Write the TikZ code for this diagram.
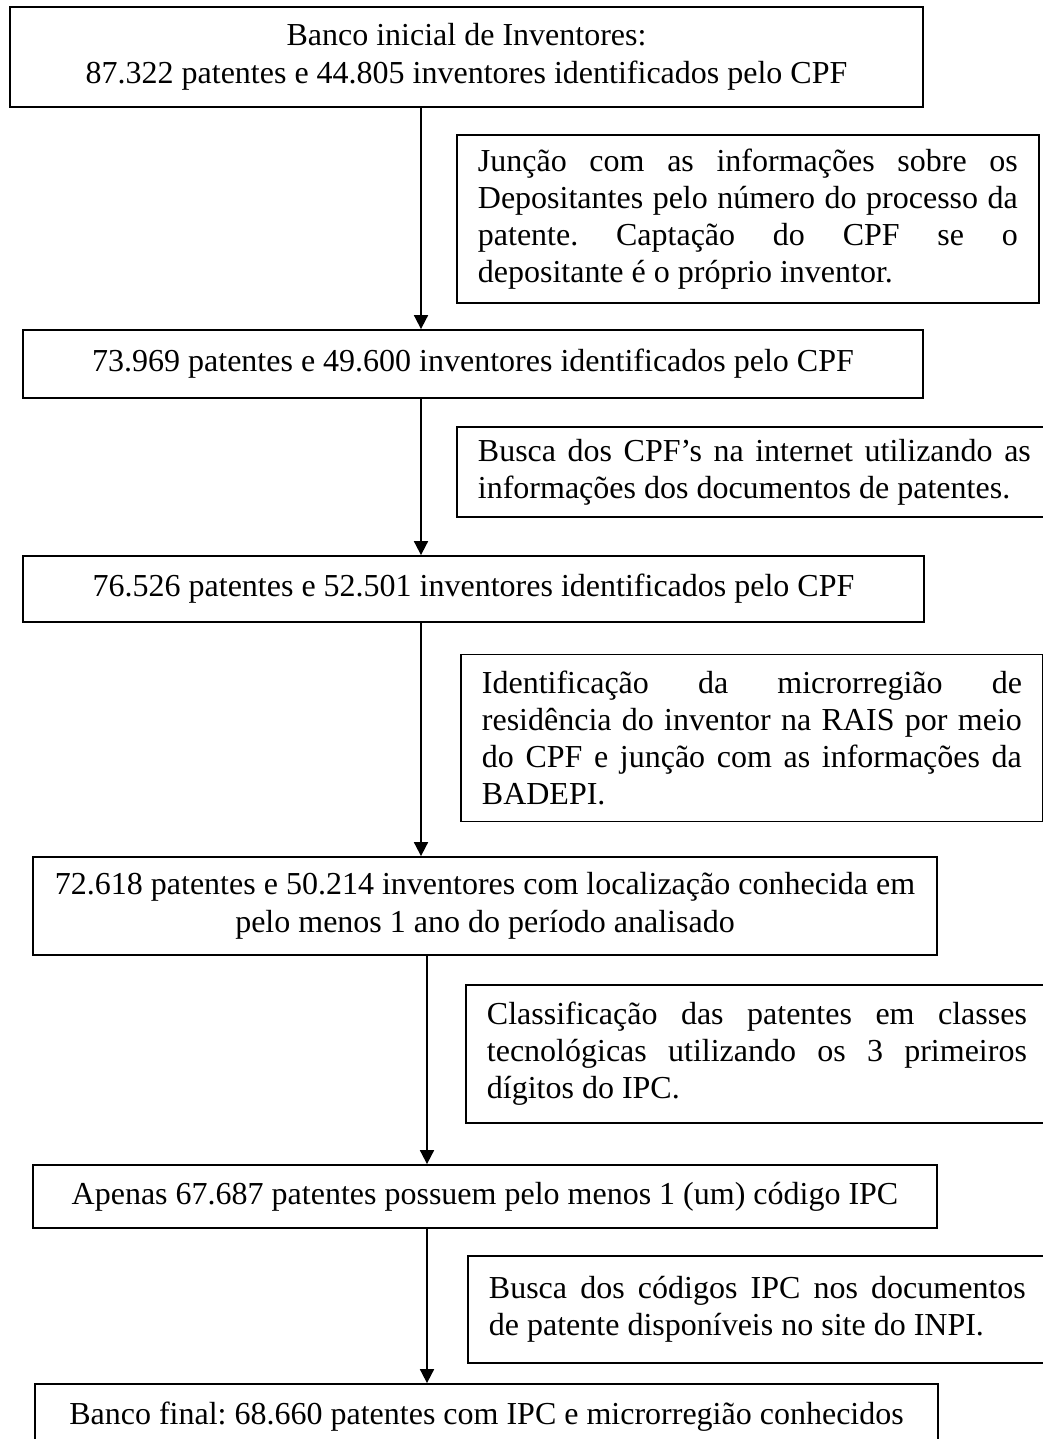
\documentclass[tikz,border=0pt]{standalone}
\usepackage{fontspec}
\setmainfont{Liberation Serif}
\usetikzlibrary{arrows.meta}
\frenchspacing
\newcommand{\sidefont}{\fontsize{16}{18.5}\selectfont\frenchspacing}
\begin{document}
\begin{tikzpicture}[x=0.5pt,y=-0.5pt,
  mainbox/.style={draw, line width=0.9pt, align=center, inner sep=0pt,
    font=\fontsize{16}{19}\selectfont\frenchspacing},
  sidebox/.style={draw, line width=0.9pt, anchor=west, inner xsep=10.5pt, inner ysep=0pt},
  arr/.style={line width=0.9pt, -{Triangle[length=7pt,width=7pt]}}]
\useasboundingbox (0,0) rectangle (1043,1439);
\fill[white] (0,0) rectangle (1043,1439);

% main boxes
\node[mainbox, minimum width=456.5pt, minimum height=50pt] (b1) at (466.5,57)
  {Banco inicial de Inventores:\\87.322 patentes e 44.805 inventores identificados pelo CPF};
\node[mainbox, minimum width=450pt, minimum height=34pt] (b2) at (473,364)
  {73.969 patentes e 49.600 inventores identificados pelo CPF};
\node[mainbox, minimum width=450.5pt, minimum height=33pt] (b3) at (473.5,589)
  {76.526 patentes e 52.501 inventores identificados pelo CPF};
\node[mainbox, minimum width=452pt, minimum height=49pt] (b4) at (485,906)
  {72.618 patentes e 50.214 inventores com localização conhecida em\\pelo menos 1 ano do período analisado};
\node[mainbox, minimum width=452pt, minimum height=31.5pt] (b5) at (485,1196.5)
  {Apenas 67.687 patentes possuem pelo menos 1 (um) código IPC};
\node[mainbox, minimum width=451.5pt, minimum height=33pt] (b6) at (486.5,1417)
  {Banco final: 68.660 patentes com IPC e microrregião conhecidos};

% side boxes
\node[sidebox, minimum height=84pt] (s1) at (456,219)
  {\parbox{270pt}{\sidefont Junção com as informações sobre os\linebreak
   Depositantes pelo número do processo da\linebreak
   patente. Captação do CPF se o\linebreak
   depositante é o próprio inventor.}};
\node[sidebox, minimum height=45pt] (s2) at (456,472)
  {\parbox{276.5pt}{\sidefont Busca dos CPF’s na internet utilizando as\linebreak
   informações dos documentos de patentes.}\hspace{15pt}};
\node[sidebox, minimum height=83.5pt] (s3) at (460,738)
  {\parbox{270pt}{\sidefont Identificação da microrregião de\linebreak
   residência do inventor na RAIS por meio\linebreak
   do CPF e junção com as informações da\linebreak
   BADEPI.}};
\node[sidebox, minimum height=69pt] (s4) at (465,1054)
  {\parbox{270pt}{\sidefont Classificação das patentes em classes\linebreak
   tecnológicas utilizando os 3 primeiros\linebreak
   dígitos do IPC.}\hspace{15pt}};
\node[sidebox, minimum height=53.5pt] (s5) at (467,1309.5)
  {\parbox{268.5pt}{\sidefont Busca dos códigos IPC nos documentos\linebreak
   de patente disponíveis no site do INPI.}\hspace{15pt}};

% connectors
\coordinate (ax1) at (421,0);
\coordinate (ax2) at (427,0);
\draw[arr] (b1.south -| ax1) -- (b2.north -| ax1);
\draw[arr] (b2.south -| ax1) -- (b3.north -| ax1);
\draw[arr] (b3.south -| ax1) -- (b4.north -| ax1);
\draw[arr] (b4.south -| ax2) -- (b5.north -| ax2);
\draw[arr] (b5.south -| ax2) -- (b6.north -| ax2);
\end{tikzpicture}
\end{document}
